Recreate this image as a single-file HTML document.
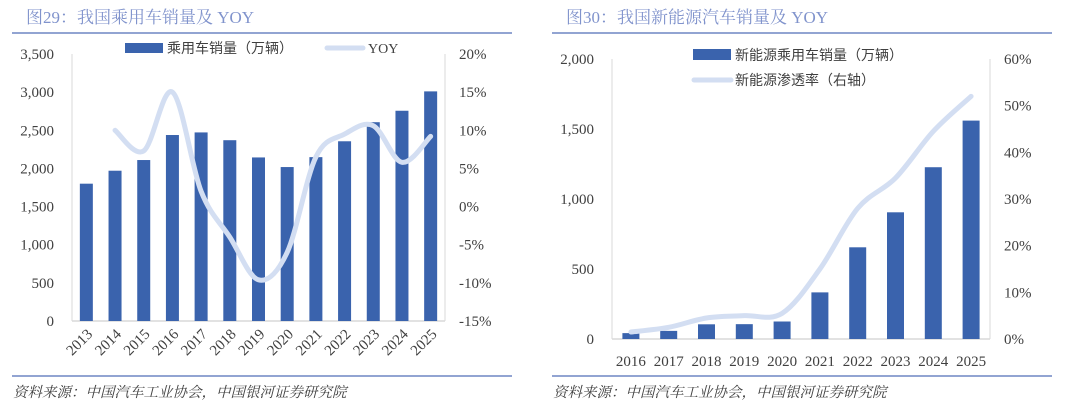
<!DOCTYPE html>
<html><head><meta charset="utf-8"><style>
body{margin:0;background:#fff;width:1080px;height:408px;overflow:hidden}
svg{display:block}
text{font-family:"Liberation Serif","Noto Serif CJK SC",serif;fill:#404040}
.t{font-family:"Liberation Serif","Noto Serif CJK SC",serif;fill:#8093cc;font-size:17px}
.src{font-family:"Liberation Serif","Noto Serif CJK SC",serif;font-style:italic;fill:#404040;font-size:14.5px}
.tick{font-size:15px}
.lg{font-size:14px;font-family:"Liberation Serif","Noto Sans CJK SC",serif}
</style></head><body>
<svg id="svg" width="1080" height="408">
<g>
<text class="t" x="26" y="23">图29：我国乘用车销量及 YOY</text>
<line x1="12" y1="33" x2="512" y2="33" stroke="#6f86c4" stroke-width="1.5"/>
<line x1="12" y1="376" x2="512" y2="376" stroke="#6f86c4" stroke-width="1.5"/>
<text class="src" x="13" y="397">资料来源：中国汽车工业协会，中国银河证券研究院</text>
</g>
<g>
<text class="t" x="566" y="23">图30：我国新能源汽车销量及 YOY</text>
<line x1="552" y1="33" x2="1052" y2="33" stroke="#6f86c4" stroke-width="1.5"/>
<line x1="552" y1="376" x2="1052" y2="376" stroke="#6f86c4" stroke-width="1.5"/>
<text class="src" x="553" y="397">资料来源：中国汽车工业协会，中国银河证券研究院</text>
</g>
<g id="c1"></g>
<g id="c2"></g>
<g>
<rect x="125" y="43" width="38" height="10" fill="#3a63ad"/>
<text class="lg" x="167" y="53">乘用车销量（万辆）</text>
<line x1="327" y1="48" x2="363" y2="48" stroke="#d3def2" stroke-width="5" stroke-linecap="round"/>
<text class="lg" x="368" y="53">YOY</text>
</g>
<g>
<rect x="693" y="49" width="38" height="11" fill="#3a63ad"/>
<text class="lg" x="735" y="60">新能源乘用车销量（万辆）</text>
<line x1="694" y1="80" x2="731" y2="80" stroke="#d3def2" stroke-width="5" stroke-linecap="round"/>
<text class="lg" x="735" y="85">新能源渗透率（右轴）</text>
</g>
</svg>
<script>
const years1=["2013","2014","2015","2016","2017","2018","2019","2020","2021","2022","2023","2024","2025"];
const sales1=[1800,1970,2110,2438,2472,2370,2144,2018,2148,2356,2606,2756,3010];
const yoy1=[null,10,7.3,15,2,-4,-9.6,-6,6.5,9.5,10.6,5.8,9.2];
const leftTicks1=[0,500,1000,1500,2000,2500,3000,3500];
const rightTicks1=[-15,-10,-5,0,5,10,15,20];
const years2=["2016","2017","2018","2019","2020","2021","2022","2023","2024","2025"];
const sales2=[42,58,105,106,125,333,655,905,1227,1560];
const pen2=[1.5,2.5,4.5,5,5.5,15,28,34.5,44.5,52];
const leftTicks2=[0,500,1000,1500,2000];
const rightTicks2=[0,10,20,30,40,50,60];
const NS="http://www.w3.org/2000/svg";
function mk(p,tag,a,txt){const e=document.createElementNS(NS,tag);for(const k in a)e.setAttribute(k,a[k]);if(txt!==undefined)e.textContent=txt;p.appendChild(e);return e;}
function smooth(pts){let d="M"+pts[0][0]+","+pts[0][1];for(let i=0;i<pts.length-1;i++){const p0=pts[i-1]||pts[i],p1=pts[i],p2=pts[i+1],p3=pts[i+2]||p2;d+=" C"+(p1[0]+(p2[0]-p0[0])/6)+","+(p1[1]+(p2[1]-p0[1])/6)+" "+(p2[0]-(p3[0]-p1[0])/6)+","+(p2[1]-(p3[1]-p1[1])/6)+" "+p2[0]+","+p2[1];}return d;}
function chart(g,o){
 const {x0,x1,yT,yB,cats,bars,line,lt,rt,lmax,lmin,rmin,rmax,bw,rot,rfmt}=o;
 const band=(x1-x0)/cats.length;
 const xc=i=>x0+band*(i+0.5);
 const yl=v=>yB-(v-lmin)/(lmax-lmin)*(yB-yT);
 const yr=v=>yB-(v-rmin)/(rmax-rmin)*(yB-yT);
 let e=mk(g,"line",{x1:x0,y1:yT,x2:x0,y2:yB,stroke:"#d9d9d9"});
 
 
 e=mk(g,"line",{x1:x1,y1:yT,x2:x1,y2:yB,stroke:"#d9d9d9"});
 
 
 e=mk(g,"line",{x1:x0,y1:yB,x2:x1,y2:yB,stroke:"#d9d9d9",'stroke-width':1.5});
 
 
 lt.forEach(v=>{e=mk(g,"text",{class:"tick",x:x0-18,y:yl(v)+5,'text-anchor':'end'},v.toLocaleString('en-US'));
 
 });
 rt.forEach(v=>{e=mk(g,"text",{class:"tick",x:x1+14,y:yr(v)+5},rfmt(v));
 
 });
 bars.forEach((v,i)=>{e=mk(g,"rect",{x:xc(i)-bw/2,y:yl(v),width:bw,height:yB-yl(v),fill:"#3a63ad"});
 
 });
 cats.forEach((c,i)=>{
  if(rot){e=mk(g,"text",{class:"tick",x:xc(i)+7,y:yB+14,'text-anchor':'end',transform:`rotate(-45 ${xc(i)+7} ${yB+14})`},c);}
  else{e=mk(g,"text",{class:"tick",x:xc(i),y:yB+27,'text-anchor':'middle'},c);}
  
  });
 const pts=[];line.forEach((v,i)=>{if(v!==null)pts.push([xc(i),yr(v)]);});
 e=mk(g,"path",{d:smooth(pts),fill:"none",stroke:"#d3def2",'stroke-width':5,'stroke-linecap':'round'});
 
 
}
chart(document.getElementById('c1'),{x0:72,x1:445,yT:54,yB:321,cats:years1,bars:sales1,line:yoy1,lt:leftTicks1,rt:rightTicks1,lmin:0,lmax:3500,rmin:-15,rmax:20,bw:13,rot:true,rfmt:v=>v+"%"});
chart(document.getElementById('c2'),{x0:612,x1:990,yT:59,yB:339,cats:years2,bars:sales2,line:pen2,lt:leftTicks2,rt:rightTicks2,lmin:0,lmax:2000,rmin:0,rmax:60,bw:17,rot:false,rfmt:v=>v+"%"});
</script>
</body></html>
